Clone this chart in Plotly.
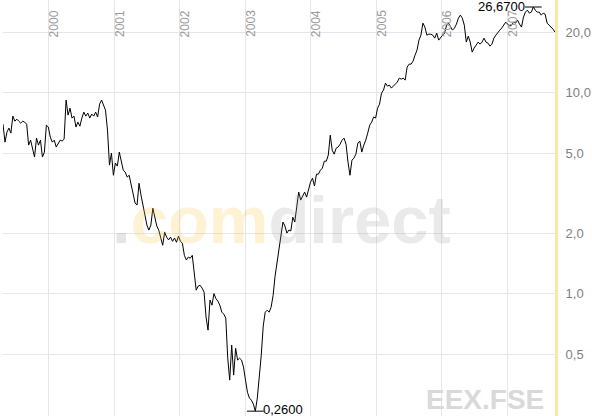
import math
import pandas as pd
import plotly.graph_objects as go

# closing prices, one reading every 11 days from 1999-04-20 to 2007-09-25
prices = [
    6.97, 5.67, 6.36, 6.66, 6.29, 7.64, 7.21, 7.38, 7.21, 7.05,
    7.21, 7.13, 6.97, 5.48, 5.80, 5.17, 4.78, 5.94, 5.48, 5.80,
    4.78, 5.06, 6.89, 6.74, 6.01, 5.67, 5.80, 5.36, 5.61, 5.80,
    5.74, 5.87, 9.18, 7.73, 8.37, 7.47, 7.64, 6.74, 7.13, 6.81,
    7.47, 8.00, 7.64, 7.91, 7.47, 7.82, 7.64, 8.00, 7.56, 8.77,
    9.18, 8.57, 8.18, 6.51, 4.36, 5.00, 3.88, 4.46, 4.31, 5.06,
    4.61, 4.11, 4.02, 3.80, 3.88, 3.46, 3.09, 2.82, 2.76, 3.54,
    3.09, 2.76, 2.51, 2.19, 2.07, 2.19, 2.66, 2.37, 2.17, 2.07,
    1.89, 1.74, 2.02, 1.91, 1.85, 1.91, 1.82, 1.89, 1.80, 1.93,
    1.82, 1.78, 1.55, 1.47, 1.52, 1.50, 1.55, 1.31, 1.04, 1.09,
    1.10, 1.065, 1.016, 0.764, 0.658, 0.928, 0.876, 1.00, 0.944, 0.917,
    0.876, 0.808, 0.790, 0.755, 0.477, 0.371, 0.554, 0.393, 0.534, 0.467,
    0.477, 0.467, 0.431, 0.371, 0.323, 0.302, 0.295, 0.282, 0.26, 0.302,
    0.380, 0.494, 0.689, 0.808, 0.827, 0.808, 0.856, 0.977, 1.22, 1.43,
    1.65, 2.02, 2.27, 2.17, 2.00, 2.07, 2.05, 2.40, 2.27, 2.70,
    3.20, 2.92, 3.05, 3.20, 3.02, 3.35, 3.59, 3.75, 3.43, 3.93,
    3.93, 4.11, 4.21, 4.56, 4.56, 4.89, 6.14, 5.17, 4.94, 5.29,
    5.36, 5.54, 5.80, 5.94, 5.54, 4.51, 3.88, 4.61, 4.72, 4.94,
    5.61, 5.74, 5.06, 5.48, 5.80, 6.29, 6.89, 7.13, 7.56, 7.47,
    8.37, 8.77, 9.94, 10.29, 11.15, 10.77, 10.90, 10.53, 10.77, 11.02,
    11.28, 11.81, 11.67, 11.81, 11.54, 13.40, 13.86, 13.86, 14.35, 15.36,
    16.27, 18.25, 19.32, 22.17, 21.19, 19.32, 19.54, 19.54, 19.32, 18.67,
    19.77, 18.25, 18.89, 19.32, 19.77, 21.67, 22.17, 21.43, 20.46, 20.95,
    21.92, 23.48, 24.30, 23.48, 21.67, 17.84, 19.10, 17.84, 15.90, 16.65,
    17.23, 17.84, 17.43, 17.84, 18.67, 17.84, 17.63, 17.04, 17.43, 18.67,
    19.32, 20.00, 20.46, 20.95, 21.67, 22.43, 21.92, 21.43, 21.67, 22.43,
    22.17, 22.95, 21.92, 21.19, 23.76, 25.15, 25.73, 24.86, 25.15, 26.67,
    25.73, 25.15, 25.15, 24.30, 24.86, 24.58, 22.17, 21.67, 21.19, 20.69,
    20.00,
]
dates = pd.date_range("1999-04-20", periods=len(prices), freq="11D")

y_ticks = [0.5, 1, 2, 5, 10, 20]
y_tick_labels = ["0,5", "1,0", "2,0", "5,0", "10,0", "20,0"]
years = [2000, 2001, 2002, 2003, 2004, 2005, 2006, 2007]
symbol = "EEX.FSE"

imax = max(range(len(prices)), key=lambda i: prices[i])
imin = min(range(len(prices)), key=lambda i: prices[i])

def de(v):
    return f"{v:.4f}".replace(".", ",")

fig = go.Figure()
fig.add_trace(go.Scatter(
    x=dates, y=prices, mode="lines",
    line=dict(color="#000000", width=1), hoverinfo="skip",
))
fig.add_trace(go.Scatter(
    x=[dates[imax], dates[imin]], y=[prices[imax], prices[imin]],
    mode="markers", cliponaxis=False, hoverinfo="skip",
    marker=dict(symbol="line-ew", size=12, color="#000000",
                line=dict(color="#000000", width=1)),
))

grid = "#e7e5ec"
font_family = "Liberation Sans, Arial, sans-serif"

annotations = []
for yr in years:
    annotations.append(dict(
        x=f"{yr}-01-01", y=1, xref="x", yref="paper",
        text=str(yr), textangle=-90, showarrow=False,
        xanchor="center", yanchor="top", xshift=5, yshift=-8,
        font=dict(family=font_family, size=12, color="#9a9a9a"),
    ))

annotations.append(dict(
    x=0.505, y=0.472, xref="paper", yref="paper", showarrow=False,
    xanchor="center", yanchor="middle",
    text=('<span style="color:rgba(150,150,150,0.25)">.</span>'
          '<span style="color:rgba(245,195,60,0.22)">com</span>'
          '<span style="color:rgba(150,150,150,0.2)">direct</span>'),
    font=dict(family=font_family, size=67, weight="bold"),
))
annotations.append(dict(
    x=0.978, y=0.0, xref="paper", yref="paper", showarrow=False,
    xanchor="right", yanchor="bottom", xshift=3, yshift=-1,
    text=symbol,
    font=dict(family=font_family, size=28, weight="bold", color="#d9d9d9"),
))
annotations.append(dict(
    x=dates[imax], y=math.log10(prices[imax]), xref="x", yref="y",
    showarrow=False, xanchor="right", yanchor="middle", xshift=-6, yshift=1,
    text=de(prices[imax]),
    font=dict(family=font_family, size=13, color="#000000"),
))
annotations.append(dict(
    x=dates[imin], y=math.log10(prices[imin]), xref="x", yref="y",
    showarrow=False, xanchor="left", yanchor="middle", xshift=6, yshift=2,
    text=de(prices[imin]),
    font=dict(family=font_family, size=13, color="#000000"),
))

fig.update_layout(
    width=592, height=416,
    margin=dict(l=3, r=37, t=0, b=0),
    paper_bgcolor="#ffffff", plot_bgcolor="#ffffff",
    showlegend=False,
    hovermode=False,
    annotations=annotations,
    xaxis=dict(
        type="date", range=[dates[0], dates[-1]],
        tickvals=[f"{yr}-01-01" for yr in years],
        showticklabels=False, ticks="",
        showgrid=True, gridcolor=grid, gridwidth=1,
        zeroline=False, showline=False,
    ),
    yaxis=dict(
        type="log", range=[math.log10(0.246), math.log10(28.9)],
        side="right", tickvals=y_ticks, ticktext=y_tick_labels,
        tickfont=dict(family=font_family, size=13, color="#808080"),
        ticks="", ticklabelstandoff=5,
        showgrid=True, gridcolor=grid, gridwidth=1,
        zeroline=False,
        showline=True, linecolor="#f8e7a6", linewidth=3,
    ),
)

fig.write_html(
    "out.html",
    config={"displayModeBar": False},
    post_script="document.body.style.margin='0';document.body.style.padding='0';document.body.style.overflow='hidden';",
)
